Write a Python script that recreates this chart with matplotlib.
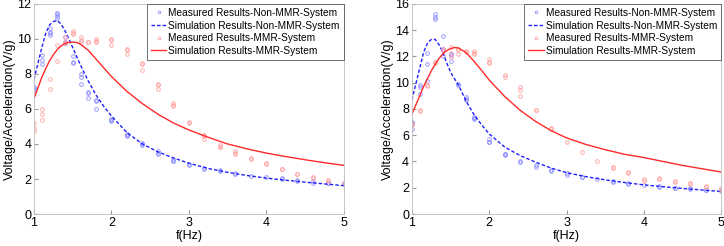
import matplotlib
matplotlib.use("Agg")
import matplotlib.pyplot as plt
import numpy as np

plt.rcParams['font.family'] = ['Liberation Sans', 'DejaVu Sans']

# measured frequencies (Hz); each entry holds the repeated readings
freqs = [1.0, 1.1, 1.2, 1.3, 1.4, 1.5, 1.6, 1.7, 1.8, 2.0, 2.2, 2.4, 2.6,
         2.8, 3.0, 3.2, 3.4, 3.6, 3.8, 4.0, 4.2, 4.4, 4.6, 4.8, 5.0]

# left panel
left_meas_non = [[7.2, 7.1, 7.25], [9.1, 8.8, 8.55], [10.6, 10.35, 10.25, 10.4],
                 [11.5, 11.4, 11.3, 11.2], [10.1, 9.8, 9.75], [9.05, 8.7, 8.6],
                 [8.0, 7.8, 7.45], [6.95, 6.9, 6.6], [6.5, 6.45, 6.0],
                 [5.45, 5.35, 5.3], [4.55, 4.5, 4.45], [4.05, 4.0, 3.95],
                 [3.6, 3.5, 3.4], [3.15, 3.05, 3.0], [2.85, 2.8], [2.65, 2.6],
                 [2.5, 2.45], [2.35, 2.3], [2.2], [2.1], [2.05, 2.0],
                 [1.95, 1.9], [1.9, 1.8], [1.8, 1.75], [1.75, 1.7]]
left_meas_mmr = [[5.2, 4.9, 4.75], [6.0, 5.7, 5.35], [7.7, 7.15], [9.65, 8.75],
                 [10.1, 9.85, 9.75], [10.45, 10.35, 10.3], [10.1, 9.95, 9.85],
                 [9.85, 9.8], [10.0, 9.9, 9.8], [10.0, 9.95, 9.65],
                 [9.45, 9.35, 9.15], [8.6, 8.55, 8.25], [7.45, 7.35, 7.15],
                 [6.35, 6.25, 6.15], [5.25, 5.2], [4.5, 4.45, 4.3],
                 [3.95, 3.85, 3.8], [3.6, 3.5, 3.4], [3.2, 3.15], [2.9, 2.85],
                 [2.6, 2.55], [2.3, 2.3], [2.1, 2.05], [1.95, 1.9], [1.75]]

# right panel
right_meas_non = [[7.0, 6.9, 6.45], [9.8, 9.7, 9.15], [12.3, 11.45, 10.15],
                  [15.2, 15.0, 14.85], [13.55, 12.6, 12.5, 12.05],
                  [12.2, 12.1, 11.65], [9.9, 9.85], [8.9, 8.75, 8.65],
                  [7.4, 7.3, 7.25], [5.7, 5.5, 5.45], [4.6, 4.55, 4.5],
                  [4.05, 3.95], [3.7, 3.6], [3.35, 3.3], [3.1, 3.0],
                  [2.85, 2.8], [2.65], [2.5, 2.45], [2.35, 2.3], [2.2],
                  [2.1, 2.05], [2.0, 1.95], [1.95, 1.9], [1.85, 1.8], [1.8, 1.75]]
right_meas_mmr = [[6.85, 6.75], [7.95, 7.85], [9.85, 9.75], [11.6, 11.5],
                  [12.6, 12.5], [12.7, 12.3, 11.95], [12.55, 12.5, 12.2],
                  [12.45, 12.35], [12.4, 12.25, 12.15], [11.8, 11.6, 11.5],
                  [10.55, 10.45], [9.65, 9.45, 9.0], [7.95, 7.9], [6.55, 6.5],
                  [5.45], [4.7], [4.0], [3.55, 3.5], [3.2, 3.15], [2.65, 2.55],
                  [2.75, 2.7], [2.5, 2.45], [2.35, 2.3], [2.1, 2.05], [1.95, 1.85]]

# simulation curves
sim_f = [1.0, 1.05, 1.1, 1.15, 1.2, 1.25, 1.3, 1.35, 1.4, 1.45, 1.5, 1.55, 1.6,
         1.7, 1.8, 1.9, 2.0, 2.2, 2.4, 2.6, 2.8, 3.0, 3.25, 3.5, 3.75, 4.0,
         4.25, 4.5, 4.75, 5.0]
left_sim_non = [7.7, 8.6, 9.5, 10.3, 10.8, 11.0, 11.05, 10.85, 10.45, 10.0,
                9.5, 9.0, 8.5, 7.6, 6.8, 6.15, 5.6, 4.65, 4.0, 3.55, 3.2,
                2.9, 2.6, 2.38, 2.2, 2.05, 1.93, 1.82, 1.72, 1.62]
left_sim_mmr = [6.6, 7.2, 7.8, 8.3, 8.75, 9.1, 9.4, 9.6, 9.75, 9.8, 9.82,
                9.8, 9.7, 9.35, 8.85, 8.35, 7.85, 7.0, 6.3, 5.7, 5.2, 4.8,
                4.38, 4.0, 3.72, 3.48, 3.28, 3.1, 2.93, 2.78]
right_sim_non = [8.7, 9.9, 11.1, 12.3, 13.0, 13.3, 13.3, 12.9, 12.3, 11.5,
                 10.8, 10.3, 9.85, 8.6, 7.6, 6.8, 6.1, 5.1, 4.45, 3.95, 3.5,
                 3.15, 2.85, 2.6, 2.4, 2.22, 2.08, 1.95, 1.83, 1.72]
right_sim_mmr = [7.6, 8.3, 9.0, 9.7, 10.3, 10.9, 11.4, 11.85, 12.2, 12.45,
                 12.6, 12.68, 12.65, 12.3, 11.65, 10.95, 10.2, 8.95, 7.9, 7.05,
                 6.35, 5.8, 5.3, 4.9, 4.55, 4.3, 4.0, 3.7, 3.45, 3.2]

panels = [
    (left_meas_non, left_meas_mmr, left_sim_non, left_sim_mmr, 12, [0.047, 0.13, 0.428, 0.854]),
    (right_meas_non, right_meas_mmr, right_sim_non, right_sim_mmr, 16, [0.569, 0.13, 0.427, 0.854]),
]

fig = plt.figure(figsize=(7.24, 2.46), dpi=100)

for meas_non, meas_mmr, sim_non, sim_mmr, ymax, pos in panels:
    ax = fig.add_axes(pos)
    xs_n = [f for f, v in zip(freqs, meas_non) for _ in v]
    ys_n = [y for v in meas_non for y in v]
    xs_m = [f for f, v in zip(freqs, meas_mmr) for _ in v]
    ys_m = [y for v in meas_mmr for y in v]
    ax.plot(xs_n, ys_n, 'o', ms=2.6, mfc='none', mec='#8c8cff', mew=0.6,
            label='Measured Results-Non-MMR-System')
    ax.plot(sim_f, sim_non, '--', color='#2020ff', lw=1.0, dashes=(2.5, 1.5),
            label='Simulation Results-Non-MMR-System')
    ax.plot(xs_m, ys_m, 'o', ms=2.6, mfc='none', mec='#ffa0a0', mew=0.6,
            label='Measured Results-MMR-System')
    ax.plot(sim_f, sim_mmr, '-', color='#ff2a2a', lw=1.0,
            label='Simulation Results-MMR-System')
    ax.set_xlim(1, 5)
    ax.set_ylim(0, ymax)
    ax.set_xticks([1, 2, 3, 4, 5])
    ax.set_yticks(np.arange(0, ymax + 1, 2))
    ax.tick_params(direction='in', labelsize=9, length=3, color='#999999', pad=2)
    for s in ax.spines.values():
        s.set_color('#bbbbbb')
        s.set_linewidth(0.6)
    ax.set_xlabel('f(Hz)', fontsize=9, labelpad=1)
    ax.set_ylabel('Voltage/Acceleration(V/g)', fontsize=9, labelpad=1)
    leg = ax.legend(loc='upper right', fontsize=7.3, frameon=True, fancybox=False,
                    borderaxespad=0, handlelength=1.5, labelspacing=0.25,
                    borderpad=0.4, handletextpad=0.2, markerscale=0.7)
    leg.get_frame().set_edgecolor('#333333')
    leg.get_frame().set_linewidth(0.6)

fig.savefig('out.png', dpi=100)
